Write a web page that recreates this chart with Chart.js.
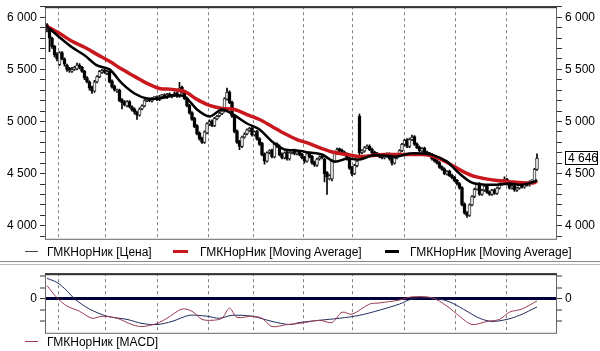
<!DOCTYPE html>
<html>
<head>
<meta charset="utf-8">
<script src="https://cdn.jsdelivr.net/npm/chart.js@4"></script>
<style>
  body { margin: 0; width: 600px; height: 351px; position: relative; background: #fff; overflow: hidden; font-family: "Liberation Sans", Arial, sans-serif; font-size: 12px; color: #000; }
  .box { position: absolute; left: 0; width: 600px; }
  .leg { position: absolute; line-height: 14px; white-space: nowrap; }
  .mark { position: absolute; }
</style>
</head>
<body>
<div class="box" style="top:-4px;height:254px"><canvas id="priceChart"></canvas></div>

<div class="mark" style="left:25px;top:251px;width:13px;height:1px;background:#444"></div>
<div class="leg" style="left:47px;top:245px">ГМКНорНик [Цена]</div>
<div class="mark" style="left:173px;top:250px;width:15px;height:3px;background:#c8181e"></div>
<div class="leg" style="left:200px;top:245px">ГМКНорНик [Moving Average]</div>
<div class="mark" style="left:385px;top:250px;width:14px;height:3px;background:#000"></div>
<div class="leg" style="left:410px;top:245px">ГМКНорНик [Moving Average]</div>

<div style="position:absolute;left:0;top:261px;width:600px;height:2px;border-top:1px solid #888;border-bottom:1px solid #bbb"></div>

<div class="box" style="top:263px;height:81px"><canvas id="macdChart"></canvas></div>

<div class="mark" style="left:25px;top:341px;width:13px;height:1px;background:#9c3a52"></div>
<div class="leg" style="left:47px;top:335px">ГМКНорНик [MACD]</div>

<script>
// Price candles (one per trading day)
const opens = [
  5930, 5890, 5800, 5720, 5650, 5545, 5660, 5600, 5540, 5510,
  5480, 5500, 5505, 5540, 5520, 5480, 5420, 5380, 5330, 5290,
  5380, 5430, 5470, 5495, 5460, 5480, 5390, 5340, 5290, 5300,
  5210, 5190, 5150, 5190, 5140, 5120, 5090, 5060, 5120, 5150,
  5200, 5215, 5195, 5220, 5235, 5210, 5240, 5255, 5230, 5265,
  5235, 5250, 5275, 5240, 5330, 5285, 5225, 5155, 5085, 5030,
  4960, 4890, 4840, 4800, 4890, 4975, 5005, 4960, 5025, 5055,
  5075, 5100, 5215, 5285, 5185, 5060, 4910, 4810, 4760, 4850,
  4880, 4915, 4935, 4870, 4905, 4835, 4790, 4690, 4620, 4700,
  4725, 4660, 4785, 4765, 4690, 4650, 4705, 4640, 4700, 4725,
  4690, 4705, 4685, 4655, 4620, 4695, 4665, 4610, 4580, 4640,
  4665, 4640, 4510, 4450, 4450, 4620, 4700, 4735, 4725, 4705,
  4690, 4645, 4560, 4500, 4575, 5050, 4700, 4715, 4745, 4765,
  4735, 4705, 4695, 4685, 4665, 4650, 4665, 4690, 4645, 4600,
  4650, 4680, 4720, 4780, 4825, 4760, 4825, 4855, 4785, 4755,
  4715, 4745, 4705, 4695, 4685, 4645, 4625, 4605, 4565, 4545,
  4495, 4525, 4485, 4465, 4435, 4405, 4365, 4210, 4125, 4100,
  4200, 4280, 4350, 4405, 4300, 4340, 4385, 4325, 4300, 4345,
  4310, 4360, 4400, 4430, 4445, 4405, 4360, 4385, 4340, 4360,
  4395, 4370, 4405, 4390, 4420, 4425, 4540
];
const highs = [
  5940, 5895, 5810, 5730, 5660, 5670, 5670, 5610, 5550, 5520,
  5520, 5530, 5560, 5555, 5530, 5490, 5430, 5390, 5340, 5395,
  5440, 5490, 5500, 5505, 5490, 5490, 5400, 5350, 5310, 5310,
  5220, 5200, 5200, 5200, 5150, 5130, 5100, 5130, 5160, 5210,
  5220, 5225, 5230, 5240, 5245, 5250, 5260, 5265, 5270, 5275,
  5260, 5285, 5285, 5375, 5340, 5295, 5235, 5165, 5095, 5040,
  4970, 4900, 4850, 4910, 4990, 5015, 5015, 5040, 5060, 5090,
  5110, 5230, 5320, 5295, 5195, 5070, 4920, 4820, 4860, 4890,
  4930, 4945, 4945, 4910, 4915, 4845, 4800, 4700, 4710, 4730,
  4735, 4800, 4795, 4775, 4700, 4710, 4715, 4710, 4730, 4735,
  4710, 4715, 4695, 4665, 4700, 4705, 4675, 4620, 4650, 4670,
  4675, 4650, 4520, 4490, 4630, 4710, 4745, 4745, 4735, 4715,
  4700, 4655, 4570, 4590, 4630, 5070, 4730, 4760, 4775, 4775,
  4745, 4715, 4705, 4695, 4675, 4680, 4700, 4700, 4655, 4660,
  4690, 4730, 4790, 4830, 4835, 4840, 4870, 4865, 4795, 4765,
  4750, 4755, 4715, 4705, 4695, 4655, 4635, 4615, 4575, 4555,
  4530, 4535, 4495, 4475, 4445, 4415, 4375, 4220, 4135, 4210,
  4290, 4360, 4410, 4415, 4350, 4390, 4395, 4335, 4350, 4355,
  4370, 4410, 4440, 4470, 4455, 4415, 4390, 4395, 4370, 4400,
  4405, 4410, 4415, 4430, 4440, 4550, 4690
];
const lows = [
  5860, 5670, 5700, 5620, 5580, 5535, 5590, 5530, 5480, 5470,
  5470, 5490, 5495, 5505, 5470, 5400, 5370, 5300, 5270, 5280,
  5370, 5420, 5460, 5460, 5450, 5370, 5320, 5290, 5280, 5190,
  5120, 5150, 5140, 5130, 5100, 5070, 5020, 5050, 5110, 5140,
  5190, 5190, 5185, 5210, 5200, 5200, 5230, 5220, 5220, 5230,
  5225, 5240, 5230, 5230, 5270, 5210, 5140, 5070, 5010, 4940,
  4870, 4820, 4790, 4790, 4880, 4960, 4950, 4950, 5015, 5045,
  5065, 5090, 5205, 5170, 5040, 4890, 4790, 4730, 4750, 4840,
  4870, 4905, 4860, 4860, 4820, 4770, 4670, 4590, 4610, 4690,
  4650, 4650, 4750, 4670, 4640, 4640, 4630, 4630, 4690, 4680,
  4680, 4670, 4640, 4600, 4610, 4650, 4590, 4570, 4570, 4630,
  4640, 4420, 4300, 4440, 4430, 4610, 4690, 4710, 4690, 4670,
  4630, 4540, 4480, 4490, 4565, 4680, 4690, 4705, 4740, 4720,
  4690, 4680, 4670, 4650, 4640, 4640, 4655, 4630, 4580, 4590,
  4640, 4670, 4710, 4770, 4750, 4750, 4815, 4770, 4740, 4710,
  4705, 4690, 4680, 4670, 4630, 4610, 4590, 4550, 4530, 4490,
  4485, 4470, 4450, 4420, 4390, 4350, 4190, 4110, 4080, 4090,
  4190, 4270, 4340, 4290, 4290, 4330, 4310, 4290, 4290, 4300,
  4300, 4350, 4390, 4420, 4390, 4350, 4350, 4330, 4330, 4350,
  4360, 4360, 4380, 4380, 4410, 4415, 4530
];
const closes = [
  5900, 5800, 5720, 5640, 5600, 5660, 5600, 5550, 5500, 5490,
  5500, 5510, 5540, 5520, 5480, 5420, 5380, 5320, 5290, 5380,
  5430, 5480, 5490, 5470, 5480, 5380, 5330, 5300, 5300, 5200,
  5180, 5160, 5190, 5140, 5110, 5090, 5060, 5120, 5150, 5200,
  5210, 5200, 5220, 5230, 5210, 5240, 5250, 5230, 5260, 5240,
  5250, 5270, 5240, 5320, 5280, 5220, 5150, 5080, 5020, 4950,
  4880, 4830, 4800, 4900, 4980, 5000, 4960, 5030, 5050, 5080,
  5100, 5220, 5280, 5180, 5050, 4900, 4800, 4760, 4850, 4880,
  4920, 4930, 4870, 4900, 4830, 4780, 4680, 4620, 4700, 4720,
  4660, 4780, 4760, 4680, 4650, 4700, 4640, 4700, 4720, 4690,
  4700, 4680, 4650, 4620, 4690, 4660, 4600, 4580, 4640, 4660,
  4650, 4500, 4470, 4480, 4620, 4700, 4730, 4720, 4700, 4680,
  4640, 4550, 4500, 4580, 4620, 4700, 4720, 4750, 4760, 4730,
  4700, 4690, 4680, 4660, 4650, 4670, 4690, 4640, 4600, 4650,
  4680, 4720, 4780, 4820, 4760, 4830, 4850, 4780, 4750, 4720,
  4740, 4700, 4690, 4680, 4640, 4620, 4600, 4560, 4540, 4500,
  4520, 4480, 4460, 4430, 4400, 4360, 4200, 4120, 4100, 4200,
  4280, 4350, 4400, 4300, 4340, 4380, 4320, 4300, 4340, 4310,
  4360, 4400, 4430, 4440, 4400, 4360, 4380, 4340, 4360, 4390,
  4370, 4400, 4390, 4420, 4430, 4540, 4646
];

// Moving averages, read at every 5th day
const maIdx = [0, 5, 10, 15, 20, 25, 30, 35, 40, 45, 50, 55, 60, 65, 70, 75, 80, 85, 90, 95,
  100, 105, 110, 115, 120, 125, 130, 135, 140, 145, 150, 155, 160, 165, 170, 175, 180, 185, 190, 195, 196];
const redMa = [5913, 5846, 5769, 5712, 5644, 5577, 5500, 5433, 5365, 5317, 5308, 5288, 5212, 5154, 5125, 5115, 5067, 5019, 4952, 4885,
  4827, 4788, 4740, 4702, 4683, 4663, 4673, 4683, 4683, 4683, 4683, 4663, 4606, 4538, 4481, 4452, 4433, 4423, 4413, 4413, 4430];
const blackMa = [5913, 5808, 5712, 5635, 5538, 5500, 5365, 5269, 5221, 5221, 5250, 5240, 5115, 5048, 5115, 5058, 4981, 4923, 4808, 4731,
  4721, 4702, 4683, 4615, 4644, 4635, 4673, 4673, 4663, 4692, 4692, 4673, 4615, 4500, 4413, 4394, 4394, 4404, 4394, 4423, 4440];

// MACD panel
const macdIdx = [0, 4, 8, 13, 18, 22, 28, 34, 38, 44, 48, 54, 58, 62, 66, 70, 73, 76, 82, 86,
  90, 96, 101, 109, 114, 118, 122, 129, 133, 141, 146, 154, 160, 165, 170, 176, 181, 185, 190, 196];
const macdVals = [59, 5, -32, -55, -86, -77, -86, -114, -123, -109, -86, -45, -55, -91, -95, -86, -41, -82, -77, -86,
  -123, -114, -109, -95, -105, -59, -68, -23, -18, -5, 9, 5, -32, -77, -114, -100, -91, -59, -45, -9];
const signalIdx = [0, 4, 8, 11, 17, 24, 32, 38, 44, 50, 57, 64, 69, 74, 82, 90, 97, 101, 109, 117,
  125, 133, 141, 146, 152, 157, 162, 168, 173, 178, 184, 189, 196];
const signalVals = [91, 73, 36, 0, -45, -77, -91, -109, -114, -100, -73, -77, -86, -73, -77, -100, -114, -105, -95, -86,
  -73, -50, -23, 0, 5, 0, -18, -55, -86, -100, -91, -73, -36];

// axis ticks
const monthTicks = [4.4, 23.2, 44, 64.4, 82.4, 102.8, 122, 142.8, 163.2, 183.6];
const macdTicks = [-100, -50, 0, 50, 100];

const fmt = v => String(v).replace(/\B(?=(\d{3})+(?!\d))/g, " ");
const tickFont = { family: "Liberation Sans", size: 12 };
const xMin = -0.8, xMax = 204;

const framePlugin = {
  id: "frame",
  afterDraw(chart) {
    const { ctx, chartArea: a } = chart;
    ctx.save();
    ctx.strokeStyle = "#666";
    ctx.lineWidth = 1;
    ctx.strokeRect(a.left + 0.5, a.top + 0.5, a.right - a.left - 1, a.bottom - a.top - 1);
    ctx.fillStyle = "#333";
    ctx.fillRect(a.left, a.top, a.right - a.left, 2);
    ctx.restore();
  }
};

const lastPricePlugin = {
  id: "lastPrice",
  afterDraw(chart) {
    const { ctx } = chart;
    const last = closes[closes.length - 1];
    const y = Math.round(chart.scales.y.getPixelForValue(last));
    ctx.save();
    ctx.fillStyle = "#fff";
    ctx.fillRect(565, y - 6, 32, 13);
    ctx.strokeStyle = "#000";
    ctx.strokeRect(565.5, y - 6.5, 32, 13);
    ctx.fillStyle = "#000";
    ctx.font = "12px 'Liberation Sans'";
    ctx.textBaseline = "middle";
    ctx.fillText(fmt(last), 568, y + 0.5);
    ctx.restore();
  }
};

function priceAxis(pos, w) {
  return {
    position: pos,
    min: 3865,
    max: 6106,
    afterFit: s => { s.width = w; },
    ticks: {
      stepSize: 100,
      includeBounds: false,
      autoSkip: false,
      padding: 3,
      color: "#000",
      font: tickFont,
      callback: v => (v % 500 === 0 ? fmt(v) : "")
    },
    grid: { drawOnChartArea: false, tickLength: 5, tickColor: "#333" },
    border: { display: false }
  };
}

const xAxis = {
  type: "linear",
  min: xMin,
  max: xMax,
  offset: false,
  afterBuildTicks: s => { s.ticks = monthTicks.map(v => ({ value: v })); },
  ticks: { display: false, autoSkip: false },
  grid: { offset: false, color: "#808080", drawTicks: false },
  border: { display: false, dash: [3, 3] }
};

new Chart(document.getElementById("priceChart"), {
  type: "bar",
  data: {
    datasets: [
      {
        type: "line",
        data: maIdx.map((x, k) => ({ x: x, y: blackMa[k] })),
        borderColor: "#000",
        borderWidth: 2.5,
        pointRadius: 0,
        tension: 0.3,
        order: 0
      },
      {
        type: "line",
        data: maIdx.map((x, k) => ({ x: x, y: redMa[k] })),
        borderColor: "#c8181e",
        borderWidth: 3.5,
        pointRadius: 0,
        tension: 0.3,
        order: 1
      },
      {
        data: closes.map((c, i) => ({ x: i, y: [opens[i], c] })),
        backgroundColor: ctx => (closes[ctx.dataIndex] > opens[ctx.dataIndex] ? "#f4f4f4" : "#000"),
        borderColor: ctx => (closes[ctx.dataIndex] > opens[ctx.dataIndex] ? "#333" : "#000"),
        borderWidth: 1,
        borderSkipped: false,
        barThickness: 3,
        minBarLength: 2,
        grouped: false,
        order: 2
      },
      {
        data: highs.map((h, i) => ({ x: i, y: [lows[i], h] })),
        backgroundColor: "#000",
        barThickness: 1,
        grouped: false,
        order: 3
      }
    ]
  },
  options: {
    animation: false,
    responsive: true,
    maintainAspectRatio: false,
    layout: { padding: 0 },
    plugins: { legend: { display: false }, tooltip: { enabled: false } },
    scales: {
      x: xAxis,
      y: priceAxis("left", 45),
      y2: priceAxis("right", 43)
    }
  },
  plugins: [framePlugin, lastPricePlugin]
});

function macdAxis(pos, w, main) {
  return {
    position: pos,
    min: -155,
    max: 114,
    afterFit: s => { s.width = w; },
    afterBuildTicks: s => { s.ticks = macdTicks.map(v => ({ value: v })); },
    ticks: {
      autoSkip: false,
      padding: 3,
      color: "#000",
      font: tickFont,
      callback: v => (v === 0 ? "0" : "")
    },
    grid: {
      drawOnChartArea: main,
      color: "#00003a",
      lineWidth: ctx => (ctx.tick && ctx.tick.value === 0 ? 3 : 0),
      tickLength: 5,
      tickWidth: 1,
      tickColor: "#333"
    },
    border: { display: false }
  };
}

new Chart(document.getElementById("macdChart"), {
  type: "line",
  data: {
    datasets: [
      {
        data: macdIdx.map((x, k) => ({ x: x, y: macdVals[k] })),
        borderColor: "#9c3a52",
        borderWidth: 1,
        pointRadius: 0,
        tension: 0.3
      },
      {
        data: signalIdx.map((x, k) => ({ x: x, y: signalVals[k] })),
        borderColor: "#1f2a5a",
        borderWidth: 1,
        pointRadius: 0,
        tension: 0.3
      }
    ]
  },
  options: {
    animation: false,
    responsive: true,
    maintainAspectRatio: false,
    layout: { padding: 0 },
    plugins: { legend: { display: false }, tooltip: { enabled: false } },
    scales: {
      x: xAxis,
      y: macdAxis("left", 45, true),
      y2: macdAxis("right", 43, false)
    }
  },
  plugins: [framePlugin]
});
</script>
</body>
</html>
